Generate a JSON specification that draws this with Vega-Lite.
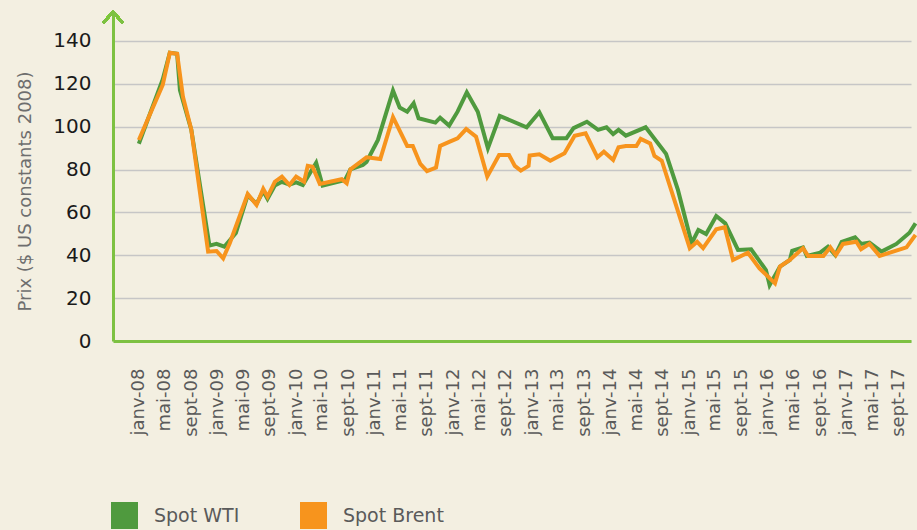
{
  "$schema": "https://vega.github.io/schema/vega-lite/v6.json",
  "autosize": {"type": "none"},
  "padding": {"left": 113, "top": 12, "right": 6, "bottom": 189},
  "width": 798,
  "height": 329,
  "background": "#f3efe1",
  "config": {
    "view": {"stroke": null},
    "font": "DejaVu Sans"
  },
  "data": {
    "values": [
      {"date": "2008-01-01", "series": "Spot WTI", "value": 92},
      {"date": "2008-04-21", "series": "Spot WTI", "value": 122},
      {"date": "2008-05-24", "series": "Spot WTI", "value": 134.5},
      {"date": "2008-06-27", "series": "Spot WTI", "value": 134},
      {"date": "2008-07-10", "series": "Spot WTI", "value": 117},
      {"date": "2008-09-01", "series": "Spot WTI", "value": 98.5},
      {"date": "2008-11-24", "series": "Spot WTI", "value": 44.5},
      {"date": "2008-12-27", "series": "Spot WTI", "value": 45.3},
      {"date": "2009-02-01", "series": "Spot WTI", "value": 44},
      {"date": "2009-03-27", "series": "Spot WTI", "value": 50.4},
      {"date": "2009-05-21", "series": "Spot WTI", "value": 68},
      {"date": "2009-07-01", "series": "Spot WTI", "value": 64},
      {"date": "2009-08-01", "series": "Spot WTI", "value": 70},
      {"date": "2009-08-21", "series": "Spot WTI", "value": 66.3},
      {"date": "2009-09-24", "series": "Spot WTI", "value": 72.5},
      {"date": "2009-10-27", "series": "Spot WTI", "value": 74.3},
      {"date": "2009-12-01", "series": "Spot WTI", "value": 73},
      {"date": "2010-01-01", "series": "Spot WTI", "value": 74},
      {"date": "2010-02-01", "series": "Spot WTI", "value": 72.8},
      {"date": "2010-04-04", "series": "Spot WTI", "value": 83.2},
      {"date": "2010-05-04", "series": "Spot WTI", "value": 72.5},
      {"date": "2010-08-16", "series": "Spot WTI", "value": 75.1},
      {"date": "2010-09-10", "series": "Spot WTI", "value": 80.1},
      {"date": "2010-11-07", "series": "Spot WTI", "value": 82.1},
      {"date": "2010-11-24", "series": "Spot WTI", "value": 83.5},
      {"date": "2011-01-16", "series": "Spot WTI", "value": 93.8},
      {"date": "2011-03-27", "series": "Spot WTI", "value": 116.8},
      {"date": "2011-04-27", "series": "Spot WTI", "value": 108.9},
      {"date": "2011-06-01", "series": "Spot WTI", "value": 107},
      {"date": "2011-07-01", "series": "Spot WTI", "value": 110.9},
      {"date": "2011-07-24", "series": "Spot WTI", "value": 103.9},
      {"date": "2011-10-10", "series": "Spot WTI", "value": 101.9},
      {"date": "2011-11-01", "series": "Spot WTI", "value": 104.2},
      {"date": "2011-12-13", "series": "Spot WTI", "value": 100.5},
      {"date": "2012-01-21", "series": "Spot WTI", "value": 107},
      {"date": "2012-03-04", "series": "Spot WTI", "value": 116},
      {"date": "2012-04-24", "series": "Spot WTI", "value": 107},
      {"date": "2012-06-10", "series": "Spot WTI", "value": 89.9},
      {"date": "2012-08-04", "series": "Spot WTI", "value": 105},
      {"date": "2012-12-07", "series": "Spot WTI", "value": 99.7},
      {"date": "2013-02-04", "series": "Spot WTI", "value": 106.7},
      {"date": "2013-04-07", "series": "Spot WTI", "value": 94.6},
      {"date": "2013-06-10", "series": "Spot WTI", "value": 94.6},
      {"date": "2013-07-13", "series": "Spot WTI", "value": 99.3},
      {"date": "2013-09-13", "series": "Spot WTI", "value": 102.3},
      {"date": "2013-11-04", "series": "Spot WTI", "value": 98.5},
      {"date": "2013-12-13", "series": "Spot WTI", "value": 99.7},
      {"date": "2014-01-13", "series": "Spot WTI", "value": 96.5},
      {"date": "2014-02-07", "series": "Spot WTI", "value": 98.5},
      {"date": "2014-03-13", "series": "Spot WTI", "value": 95.8},
      {"date": "2014-06-13", "series": "Spot WTI", "value": 99.7},
      {"date": "2014-09-16", "series": "Spot WTI", "value": 87.3},
      {"date": "2014-11-10", "series": "Spot WTI", "value": 70.5},
      {"date": "2015-01-13", "series": "Spot WTI", "value": 45.6},
      {"date": "2015-02-13", "series": "Spot WTI", "value": 51.8},
      {"date": "2015-03-21", "series": "Spot WTI", "value": 49.9},
      {"date": "2015-05-07", "series": "Spot WTI", "value": 58.3},
      {"date": "2015-06-18", "series": "Spot WTI", "value": 54.9},
      {"date": "2015-08-16", "series": "Spot WTI", "value": 42.5},
      {"date": "2015-10-16", "series": "Spot WTI", "value": 42.8},
      {"date": "2015-12-24", "series": "Spot WTI", "value": 33.1},
      {"date": "2016-01-10", "series": "Spot WTI", "value": 26.1},
      {"date": "2016-02-10", "series": "Spot WTI", "value": 31.6},
      {"date": "2016-02-27", "series": "Spot WTI", "value": 34.7},
      {"date": "2016-04-13", "series": "Spot WTI", "value": 37.8},
      {"date": "2016-04-24", "series": "Spot WTI", "value": 42.1},
      {"date": "2016-06-13", "series": "Spot WTI", "value": 43.7},
      {"date": "2016-07-01", "series": "Spot WTI", "value": 39.7},
      {"date": "2016-09-01", "series": "Spot WTI", "value": 41.2},
      {"date": "2016-10-07", "series": "Spot WTI", "value": 44},
      {"date": "2016-11-10", "series": "Spot WTI", "value": 40.1},
      {"date": "2016-12-10", "series": "Spot WTI", "value": 46.3},
      {"date": "2017-02-10", "series": "Spot WTI", "value": 48.4},
      {"date": "2017-03-10", "series": "Spot WTI", "value": 45.3},
      {"date": "2017-04-18", "series": "Spot WTI", "value": 45.9},
      {"date": "2017-06-13", "series": "Spot WTI", "value": 41.7},
      {"date": "2017-08-21", "series": "Spot WTI", "value": 45.3},
      {"date": "2017-10-21", "series": "Spot WTI", "value": 50.5},
      {"date": "2017-11-18", "series": "Spot WTI", "value": 54.9},
      {"date": "2008-01-01", "series": "Spot Brent", "value": 93.8},
      {"date": "2008-04-21", "series": "Spot Brent", "value": 119.5},
      {"date": "2008-05-24", "series": "Spot Brent", "value": 134.5},
      {"date": "2008-06-27", "series": "Spot Brent", "value": 134},
      {"date": "2008-07-24", "series": "Spot Brent", "value": 114},
      {"date": "2008-09-01", "series": "Spot Brent", "value": 98.5},
      {"date": "2008-11-18", "series": "Spot Brent", "value": 41.7},
      {"date": "2008-12-27", "series": "Spot Brent", "value": 42},
      {"date": "2009-01-27", "series": "Spot Brent", "value": 38.6},
      {"date": "2009-02-27", "series": "Spot Brent", "value": 45.7},
      {"date": "2009-05-21", "series": "Spot Brent", "value": 68.6},
      {"date": "2009-07-01", "series": "Spot Brent", "value": 63.5},
      {"date": "2009-08-01", "series": "Spot Brent", "value": 71},
      {"date": "2009-08-21", "series": "Spot Brent", "value": 67.3},
      {"date": "2009-09-24", "series": "Spot Brent", "value": 74.3},
      {"date": "2009-10-27", "series": "Spot Brent", "value": 76.7},
      {"date": "2009-12-01", "series": "Spot Brent", "value": 72.8},
      {"date": "2010-01-01", "series": "Spot Brent", "value": 76.7},
      {"date": "2010-02-07", "series": "Spot Brent", "value": 74.3},
      {"date": "2010-02-24", "series": "Spot Brent", "value": 81.7},
      {"date": "2010-03-18", "series": "Spot Brent", "value": 81.3},
      {"date": "2010-04-21", "series": "Spot Brent", "value": 73.3},
      {"date": "2010-08-01", "series": "Spot Brent", "value": 75.5},
      {"date": "2010-08-24", "series": "Spot Brent", "value": 73.6},
      {"date": "2010-09-10", "series": "Spot Brent", "value": 80.1},
      {"date": "2010-11-24", "series": "Spot Brent", "value": 85.7},
      {"date": "2011-01-27", "series": "Spot Brent", "value": 84.9},
      {"date": "2011-03-27", "series": "Spot Brent", "value": 104.4},
      {"date": "2011-06-01", "series": "Spot Brent", "value": 91},
      {"date": "2011-06-27", "series": "Spot Brent", "value": 91},
      {"date": "2011-08-01", "series": "Spot Brent", "value": 82.6},
      {"date": "2011-09-01", "series": "Spot Brent", "value": 79.3},
      {"date": "2011-10-13", "series": "Spot Brent", "value": 80.9},
      {"date": "2011-11-01", "series": "Spot Brent", "value": 91},
      {"date": "2011-12-16", "series": "Spot Brent", "value": 93},
      {"date": "2012-01-21", "series": "Spot Brent", "value": 94.6},
      {"date": "2012-03-01", "series": "Spot Brent", "value": 98.9},
      {"date": "2012-04-16", "series": "Spot Brent", "value": 95.3},
      {"date": "2012-06-07", "series": "Spot Brent", "value": 76.7},
      {"date": "2012-08-01", "series": "Spot Brent", "value": 86.8},
      {"date": "2012-09-16", "series": "Spot Brent", "value": 86.8},
      {"date": "2012-10-13", "series": "Spot Brent", "value": 81.7},
      {"date": "2012-11-10", "series": "Spot Brent", "value": 79.5},
      {"date": "2012-12-16", "series": "Spot Brent", "value": 81.7},
      {"date": "2012-12-21", "series": "Spot Brent", "value": 86.5},
      {"date": "2013-02-04", "series": "Spot Brent", "value": 87.1},
      {"date": "2013-03-27", "series": "Spot Brent", "value": 84.1},
      {"date": "2013-06-01", "series": "Spot Brent", "value": 87.6},
      {"date": "2013-07-18", "series": "Spot Brent", "value": 95.8},
      {"date": "2013-09-07", "series": "Spot Brent", "value": 96.9},
      {"date": "2013-11-01", "series": "Spot Brent", "value": 85.7},
      {"date": "2013-12-01", "series": "Spot Brent", "value": 88.3},
      {"date": "2014-01-13", "series": "Spot Brent", "value": 84.5},
      {"date": "2014-02-07", "series": "Spot Brent", "value": 90.4},
      {"date": "2014-03-13", "series": "Spot Brent", "value": 91},
      {"date": "2014-05-01", "series": "Spot Brent", "value": 91},
      {"date": "2014-05-21", "series": "Spot Brent", "value": 94.3},
      {"date": "2014-07-04", "series": "Spot Brent", "value": 92.2},
      {"date": "2014-07-24", "series": "Spot Brent", "value": 86.3},
      {"date": "2014-08-27", "series": "Spot Brent", "value": 84.1},
      {"date": "2015-01-04", "series": "Spot Brent", "value": 43.3},
      {"date": "2015-02-07", "series": "Spot Brent", "value": 46.3},
      {"date": "2015-03-07", "series": "Spot Brent", "value": 43.3},
      {"date": "2015-05-07", "series": "Spot Brent", "value": 52.1},
      {"date": "2015-06-16", "series": "Spot Brent", "value": 53.1},
      {"date": "2015-07-24", "series": "Spot Brent", "value": 37.8},
      {"date": "2015-10-01", "series": "Spot Brent", "value": 41.2},
      {"date": "2015-11-24", "series": "Spot Brent", "value": 33.9},
      {"date": "2016-02-04", "series": "Spot Brent", "value": 26.9},
      {"date": "2016-02-27", "series": "Spot Brent", "value": 34.7},
      {"date": "2016-04-13", "series": "Spot Brent", "value": 37.8},
      {"date": "2016-06-13", "series": "Spot Brent", "value": 43.3},
      {"date": "2016-07-07", "series": "Spot Brent", "value": 39.7},
      {"date": "2016-09-16", "series": "Spot Brent", "value": 39.7},
      {"date": "2016-10-18", "series": "Spot Brent", "value": 43.7},
      {"date": "2016-11-13", "series": "Spot Brent", "value": 40.1},
      {"date": "2016-12-16", "series": "Spot Brent", "value": 45.3},
      {"date": "2017-02-16", "series": "Spot Brent", "value": 46.3},
      {"date": "2017-03-10", "series": "Spot Brent", "value": 42.8},
      {"date": "2017-04-18", "series": "Spot Brent", "value": 45.3},
      {"date": "2017-06-04", "series": "Spot Brent", "value": 39.7},
      {"date": "2017-10-07", "series": "Spot Brent", "value": 43.7},
      {"date": "2017-11-18", "series": "Spot Brent", "value": 49.5}
    ]
  },
  "encoding": {
    "x": {
      "field": "date",
      "type": "temporal",
      "scale": {
        "type": "utc",
        "domain": [
          {"year": 2007, "month": 9, "date": 3, "utc": true},
          {"year": 2017, "month": 10, "date": 28, "utc": true}
        ],
        "nice": false
      },
      "axis": {
        "title": null,
        "values": [
          {"year": 2008, "month": 1, "date": 1, "utc": true},
          {"year": 2008, "month": 5, "date": 1, "utc": true},
          {"year": 2008, "month": 9, "date": 1, "utc": true},
          {"year": 2009, "month": 1, "date": 1, "utc": true},
          {"year": 2009, "month": 5, "date": 1, "utc": true},
          {"year": 2009, "month": 9, "date": 1, "utc": true},
          {"year": 2010, "month": 1, "date": 1, "utc": true},
          {"year": 2010, "month": 5, "date": 1, "utc": true},
          {"year": 2010, "month": 9, "date": 1, "utc": true},
          {"year": 2011, "month": 1, "date": 1, "utc": true},
          {"year": 2011, "month": 5, "date": 1, "utc": true},
          {"year": 2011, "month": 9, "date": 1, "utc": true},
          {"year": 2012, "month": 1, "date": 1, "utc": true},
          {"year": 2012, "month": 5, "date": 1, "utc": true},
          {"year": 2012, "month": 9, "date": 1, "utc": true},
          {"year": 2013, "month": 1, "date": 1, "utc": true},
          {"year": 2013, "month": 5, "date": 1, "utc": true},
          {"year": 2013, "month": 9, "date": 1, "utc": true},
          {"year": 2014, "month": 1, "date": 1, "utc": true},
          {"year": 2014, "month": 5, "date": 1, "utc": true},
          {"year": 2014, "month": 9, "date": 1, "utc": true},
          {"year": 2015, "month": 1, "date": 1, "utc": true},
          {"year": 2015, "month": 5, "date": 1, "utc": true},
          {"year": 2015, "month": 9, "date": 1, "utc": true},
          {"year": 2016, "month": 1, "date": 1, "utc": true},
          {"year": 2016, "month": 5, "date": 1, "utc": true},
          {"year": 2016, "month": 9, "date": 1, "utc": true},
          {"year": 2017, "month": 1, "date": 1, "utc": true},
          {"year": 2017, "month": 5, "date": 1, "utc": true},
          {"year": 2017, "month": 9, "date": 1, "utc": true}
        ],
        "labelExpr": "['janv','févr','mars','avr','mai','juin','juil','août','sept','oct','nov','déc'][utcmonth(datum.value)] + '-' + utcFormat(datum.value, '%y')",
        "labelAngle": -90,
        "labelFontSize": 18,
        "labelColor": "#5a5a5a",
        "labelPadding": 27,
        "labelOverlap": false,
        "ticks": false,
        "grid": false,
        "domainColor": "#7dc142",
        "domainWidth": 3
      }
    },
    "y": {
      "field": "value",
      "type": "quantitative",
      "scale": {"domain": [0, 153.5], "nice": false, "zero": true},
      "axis": {
        "title": "Prix ($ US constants 2008)",
        "titleFontSize": 18,
        "titleFontWeight": "normal",
        "titleColor": "#6e6e6e",
        "titleX": -88,
        "titleY": 179,
        "titleBaseline": "middle",
        "titleAlign": "center",
        "values": [0, 20, 40, 60, 80, 100, 120, 140],
        "labelFontSize": 20,
        "labelColor": "#1a1a1a",
        "labelPadding": 22,
        "ticks": false,
        "grid": true,
        "gridColor": "#c6c6c6",
        "gridWidth": 1.5,
        "domainColor": "#7dc142",
        "domainWidth": 3
      }
    }
  },
  "layer": [
    {
      "transform": [{"filter": "datum.series === 'Spot WTI'"}],
      "mark": {"type": "line", "strokeWidth": 4},
      "encoding": {
        "color": {
          "field": "series",
          "type": "nominal",
          "scale": {"domain": ["Spot WTI", "Spot Brent"], "range": ["#4f9a3e", "#f7941d"]},
          "legend": {
            "title": null,
            "orient": "none",
            "legendX": -2,
            "legendY": 490,
            "direction": "horizontal",
            "padding": 0,
            "symbolType": "square",
            "symbolSize": 729,
            "symbolStrokeWidth": 0,
            "labelFontSize": 19,
            "labelColor": "#5a5a5a",
            "labelOffset": 16,
            "columnPadding": 60,
            "encode": {
              "symbols": {
                "update": {
                  "fill": {"scale": "color", "field": "value"},
                  "fillOpacity": {"value": 1},
                  "strokeWidth": {"value": 0}
                }
              }
            }
          }
        }
      }
    },
    {
      "transform": [{"filter": "datum.series === 'Spot Brent'"}],
      "mark": {"type": "line", "strokeWidth": 4},
      "encoding": {
        "color": {"field": "series", "type": "nominal"}
      }
    },
    {
      "mark": {
        "type": "point",
        "shape": "M-1,1.1L0,0L1,1.1",
        "size": 400,
        "filled": false,
        "stroke": "#7dc142",
        "strokeWidth": 2.5,
        "opacity": 1
      },
      "encoding": {
        "x": {"datum": {"year": 2007, "month": 9, "date": 3, "utc": true}, "type": "temporal"},
        "y": {"datum": 153.5, "type": "quantitative"}
      }
    }
  ]
}
